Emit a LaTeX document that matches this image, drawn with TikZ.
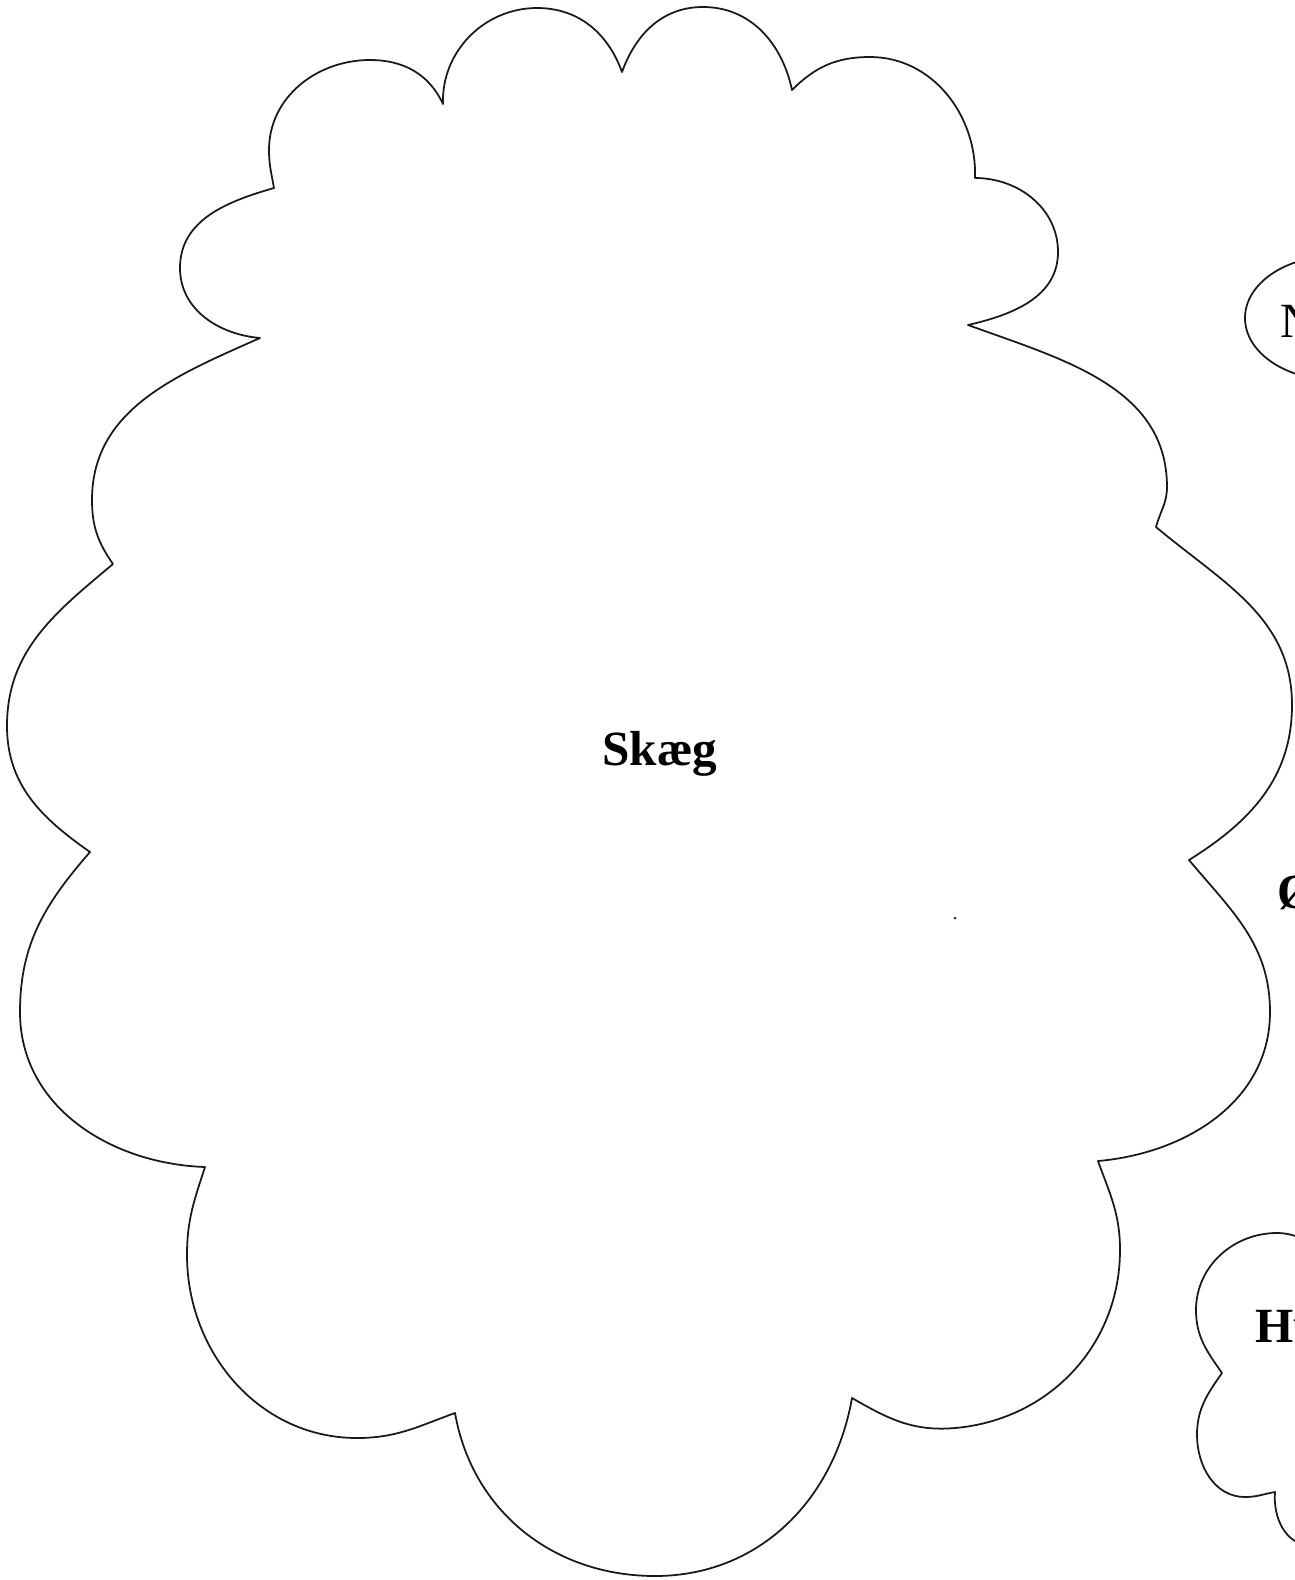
\documentclass[tikz,border=0pt]{standalone}
\usepackage{fontspec}
\setmainfont{Liberation Serif}

\begin{document}
\begin{tikzpicture}[
  x=0.02cm, y=0.02cm,
  outline/.style={draw=black!90, line width=1pt, line join=round},
  word/.style={inner sep=0pt, font=\fontsize{28}{34}\selectfont\bfseries},
  thinword/.style={inner sep=0pt, font=\fontsize{28}{34}\selectfont}
]
\useasboundingbox (0,0) rectangle (1295,-1580);

% the beard cloud
\draw[outline] (260,-338) to[out=175,in=-90] (180,-268) to[out=90,in=196] (274,-188)
  to[out=100,in=-90] (269,-150) to[out=90,in=180] (370,-60) to[out=0,in=115] (443,-104)
  to[out=92,in=180] (537,-8) to[out=0,in=110] (622,-72)
  to[out=70,in=180] (703,-7) to[out=0,in=102] (792,-90)
  to[out=45,in=180] (870,-57) to[out=0,in=88] (975,-178)
  to[out=0,in=90] (1058,-252) to[out=-90,in=13] (968,-325)
  to[out=-20,in=90] (1167,-487) to[out=-90,in=75] (1156,-527)
  to[out=-40,in=90] (1292,-705) to[out=-90,in=32] (1189,-860)
  to[out=-50,in=90] (1270,-1012) to[out=-90,in=5] (1098,-1161)
  to[out=-70,in=90] (1120,-1250) to[out=-90,in=5] (955,-1428) to[out=185,in=-30] (852,-1398)
  to[out=-100,in=0] (655,-1576) to[out=180,in=-80] (455,-1413)
  to[out=200,in=0] (357,-1438) to[out=180,in=-90] (187,-1255) to[out=90,in=-108] (205,-1167)
  to[out=178,in=-90] (20,-1012) to[out=90,in=-131] (90,-852)
  to[out=145,in=-90] (7,-726) to[out=90,in=-140] (113,-564)
  to[out=125,in=-90] (92,-500) to[out=90,in=204] (260,-338) -- cycle;

% shapes cut by the right edge
\draw[outline] (1335,-318) ellipse[x radius=90, y radius=62];
\draw[outline] (1330,-1250) to[out=165,in=0] (1277,-1233) to[out=180,in=90] (1196,-1310)
  to[out=-90,in=125] (1222,-1373) to[out=235,in=90] (1197,-1435)
  to[out=-90,in=180] (1245,-1497) to[out=0,in=190] (1275,-1492)
  to[out=-95,in=180] (1310,-1545);
\fill[black!80] (955,-918) circle[radius=1.5];

\node[word, anchor=base] (skaeg) at (660,-765) {Skæg};
\node[thinword, anchor=base west] (n) at (1280,-337) {N};
\node[word, anchor=base west] (oe) at (1277,-908) {Ø};
\node[word, anchor=base west] (hu) at (1255,-1342) {Hu};
\end{tikzpicture}
\end{document}
